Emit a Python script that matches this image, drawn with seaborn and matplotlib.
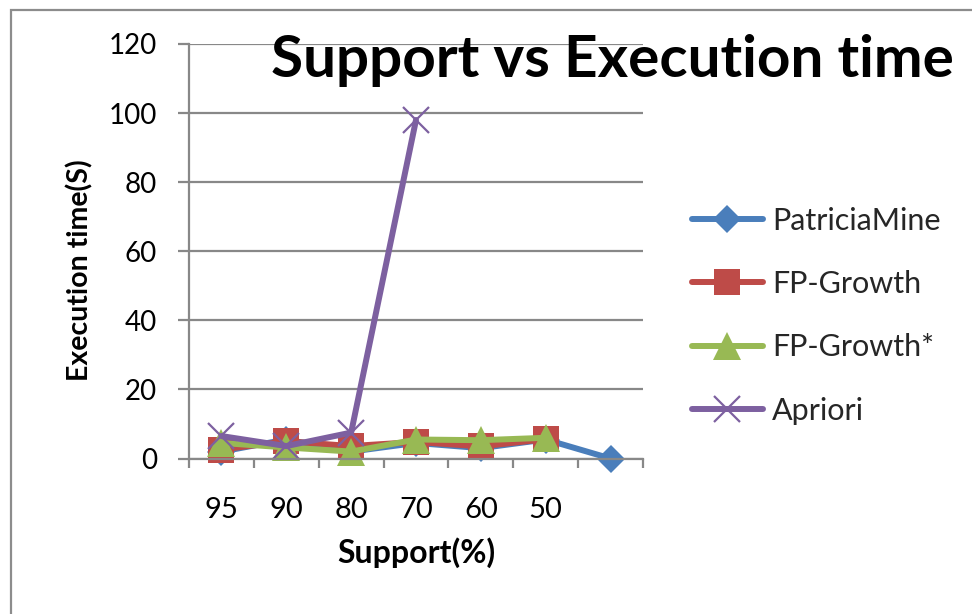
import numpy as np
import pandas as pd
import matplotlib
matplotlib.use("Agg")
import matplotlib.pyplot as plt
import seaborn as sns
from matplotlib.ticker import FixedLocator
from matplotlib.patches import Rectangle

categories = ["95", "90", "80", "70", "60", "50", ""]
patricia = [2.0, 5.5, 2.0, 4.5, 3.0, 5.5, 0.0]
fp_growth = [2.6, 5.0, 3.6, 4.8, 3.5, 5.6, np.nan]
fp_growth_star = [4.5, 3.2, 2.0, 5.5, 5.3, 6.0, np.nan]
apriori = [6.5, 3.6, 7.5, 98.0, np.nan, np.nan, np.nan]
series_names = ["PatriciaMine", "FP-Growth", "FP-Growth*", "Apriori"]
y_ticks = [0, 20, 40, 60, 80, 100, 120]

sns.set_theme(style="white")
plt.rcParams["font.family"] = ["Lato", "DejaVu Sans"]

fig = plt.figure(figsize=(9.72, 6.14), dpi=100)
ax = fig.add_axes([189/972, 1-458.5/614, (643-189)/972, (458.5-44)/614])

pos = np.arange(len(categories))
styles = [
    dict(color="#4A7EBB", marker="D", markersize=14.5, mew=0),
    dict(color="#BE4B48", marker="s", markersize=18.5, mew=0),
    dict(color="#98B954", marker="^", markersize=19.5, mew=0),
    dict(color="#7D60A0", marker="x", markersize=19, mew=1.6),
]
for name, vals, st in zip(series_names, [patricia, fp_growth, fp_growth_star, apriori], styles):
    df = pd.DataFrame({"x": pos, "y": vals}).dropna()
    sns.lineplot(data=df, x="x", y="y", ax=ax, color=st["color"], linewidth=4.3,
                 marker=st["marker"], markersize=st["markersize"],
                 markeredgewidth=st["mew"], markeredgecolor=st["color"],
                 label=name, legend=False, clip_on=False)

grid_c = "#888888"
ax.set_xlim(-0.5, len(categories) - 0.5)
ax.set_ylim(0, 120)
ax.set_yticks(y_ticks)
ax.yaxis.grid(True, color=grid_c, linewidth=1.6)
ax.xaxis.grid(False)
ax.set_axisbelow(True)
for s in ["top", "right"]:
    ax.spines[s].set_visible(False)
for s in ["left", "bottom"]:
    ax.spines[s].set_color(grid_c)
    ax.spines[s].set_linewidth(1.6)

ax.set_xticks(pos)
ax.set_xticklabels(categories)
ax.xaxis.set_minor_locator(FixedLocator(np.arange(-0.5, len(categories), 1.0)))
ax.tick_params(axis="x", which="major", length=0, pad=28, labelsize=21, labelcolor="black")
ax.tick_params(axis="x", which="minor", length=6.5, width=1.6, color=grid_c, direction="out", bottom=True)
ax.tick_params(axis="y", which="major", length=8, width=1.6, color=grid_c, direction="out", left=True,
               pad=15, labelsize=20, labelcolor="black")

ax.set_xlabel("Support(%)", fontsize=23, fontweight="bold", color="black")
ax.xaxis.set_label_coords(0.5, -0.19)
ax.set_ylabel("Execution time(S)", fontsize=20.5, fontweight="bold", color="black")
ax.yaxis.set_label_coords(-0.21, 0.455)

fig.text(954/972, 1-77/614, "Support vs Execution time", ha="right", va="baseline",
         fontsize=42, fontweight="bold", color="black")

handles, labels = ax.get_legend_handles_labels()
fig.legend(handles, labels, loc="upper left", bbox_to_anchor=(692/972, 1-206.5/614),
           frameon=False, fontsize=22, handlelength=2.32, handletextpad=0.3,
           labelspacing=1.16, borderpad=0, borderaxespad=0)

fig.patches.append(Rectangle((10.5/972, -0.05), 1.2, 1 - 9.5/614 + 0.05, transform=fig.transFigure,
                             fill=False, edgecolor="#8C8C8C", linewidth=1.6))

fig.savefig("out.png", dpi=100)
